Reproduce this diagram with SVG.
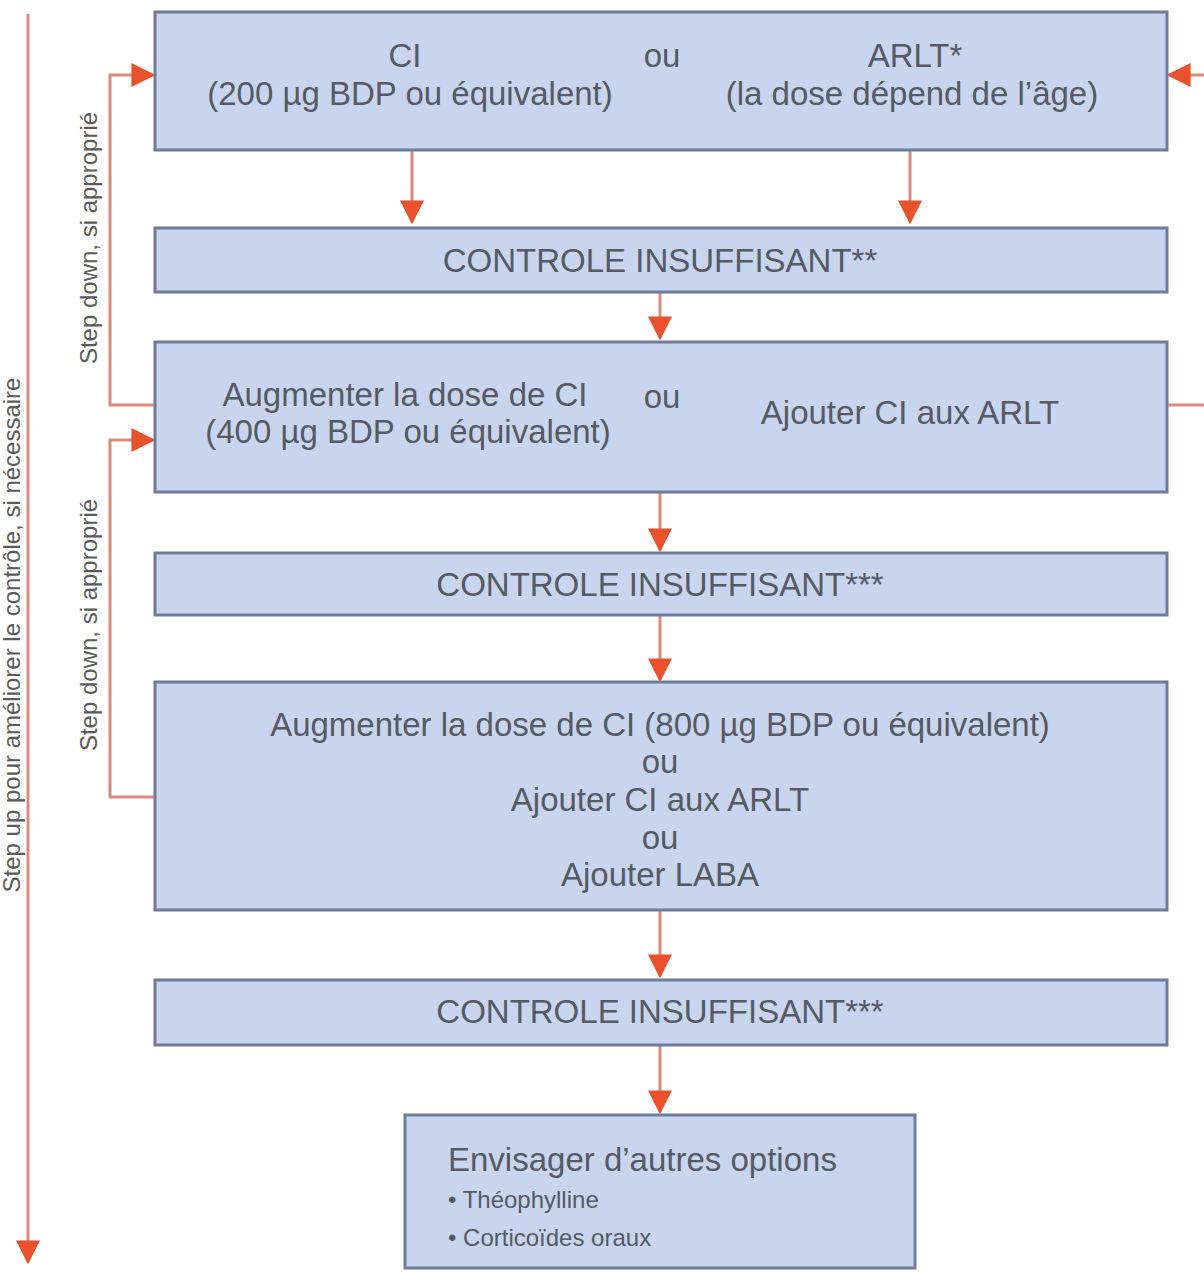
<svg xmlns="http://www.w3.org/2000/svg" width="1204" height="1272" viewBox="0 0 1204 1272">
<defs>
<style>
.box{fill:#c9d5ee;stroke:#6d7c99;stroke-width:3}
.t{font-family:"Liberation Sans",Arial,sans-serif;font-size:33px;fill:#555a63;text-anchor:middle}
.s{font-family:"Liberation Sans",Arial,sans-serif;font-size:24px;fill:#555a63}
.side{font-family:"Liberation Sans",Arial,sans-serif;font-size:24px;fill:#5a5a5a;text-anchor:middle}
.ln{fill:none;stroke:#d98a78;stroke-width:3}
</style>
<marker id="ahb" viewBox="0 0 10 10" refX="9" refY="5" markerWidth="8" markerHeight="8" orient="auto">
<path d="M0,0 L10,5 L0,10 Z" fill="#e9502c"/>
</marker>
</defs>
<rect width="1204" height="1272" fill="#ffffff"/>

<g id="connectors">
<path class="ln" d="M28,14 V1262" marker-end="url(#ahb)"/>
<path class="ln" d="M412,150 V222" marker-end="url(#ahb)"/>
<path class="ln" d="M910,150 V222" marker-end="url(#ahb)"/>
<path class="ln" d="M660,292 V338" marker-end="url(#ahb)"/>
<path class="ln" d="M660,492 V550" marker-end="url(#ahb)"/>
<path class="ln" d="M660,615 V680" marker-end="url(#ahb)"/>
<path class="ln" d="M660,910 V976" marker-end="url(#ahb)"/>
<path class="ln" d="M660,1045 V1112" marker-end="url(#ahb)"/>
<path class="ln" d="M155,405 H110 V75 H153" marker-end="url(#ahb)"/>
<path class="ln" d="M155,797 H110 V440 H153" marker-end="url(#ahb)"/>
<path class="ln" d="M1168,405 H1204"/>
<path class="ln" d="M1204,75 H1169" marker-end="url(#ahb)"/>
</g>

<g id="label-stepup">
<text class="side" transform="translate(20,635) rotate(-90)">Step up pour améliorer le contrôle, si nécessaire</text>
</g>
<g id="label-stepdown1">
<text class="side" transform="translate(97,238) rotate(-90)">Step down, si approprié</text>
</g>
<g id="label-stepdown2">
<text class="side" transform="translate(97,625) rotate(-90)">Step down, si approprié</text>
</g>

<g id="node1">
<rect class="box" x="155" y="12" width="1012" height="138"/>
<text class="t" x="405" y="67">CI</text>
<text class="t" x="410" y="105">(200 µg BDP ou équivalent)</text>
<text class="t" x="662" y="67">ou</text>
<text class="t" x="915" y="67">ARLT*</text>
<text class="t" x="912" y="105">(la dose dépend de l’âge)</text>
</g>

<g id="node2">
<rect class="box" x="155" y="228" width="1012" height="64"/>
<text class="t" x="660" y="272">CONTROLE INSUFFISANT**</text>
</g>

<g id="node3">
<rect class="box" x="155" y="342" width="1012" height="150"/>
<text class="t" x="405" y="406">Augmenter la dose de CI</text>
<text class="t" x="408" y="443">(400 µg BDP ou équivalent)</text>
<text class="t" x="662" y="408">ou</text>
<text class="t" x="910" y="424">Ajouter CI aux ARLT</text>
</g>

<g id="node4">
<rect class="box" x="155" y="553" width="1012" height="62"/>
<text class="t" x="660" y="596">CONTROLE INSUFFISANT***</text>
</g>

<g id="node5">
<rect class="box" x="155" y="682" width="1012" height="228"/>
<text class="t" x="660" y="736">Augmenter la dose de CI (800 µg BDP ou équivalent)</text>
<text class="t" x="660" y="773">ou</text>
<text class="t" x="660" y="811">Ajouter CI aux ARLT</text>
<text class="t" x="660" y="849">ou</text>
<text class="t" x="660" y="886">Ajouter LABA</text>
</g>

<g id="node6">
<rect class="box" x="155" y="980" width="1012" height="65"/>
<text class="t" x="660" y="1023">CONTROLE INSUFFISANT***</text>
</g>

<g id="node7">
<rect class="box" x="405" y="1115" width="510" height="153"/>
<text class="t" x="448" y="1171" style="text-anchor:start">Envisager d’autres options</text>
<text class="s" x="448" y="1208">• Théophylline</text>
<text class="s" x="448" y="1246">• Corticoïdes oraux</text>
</g>
</svg>
